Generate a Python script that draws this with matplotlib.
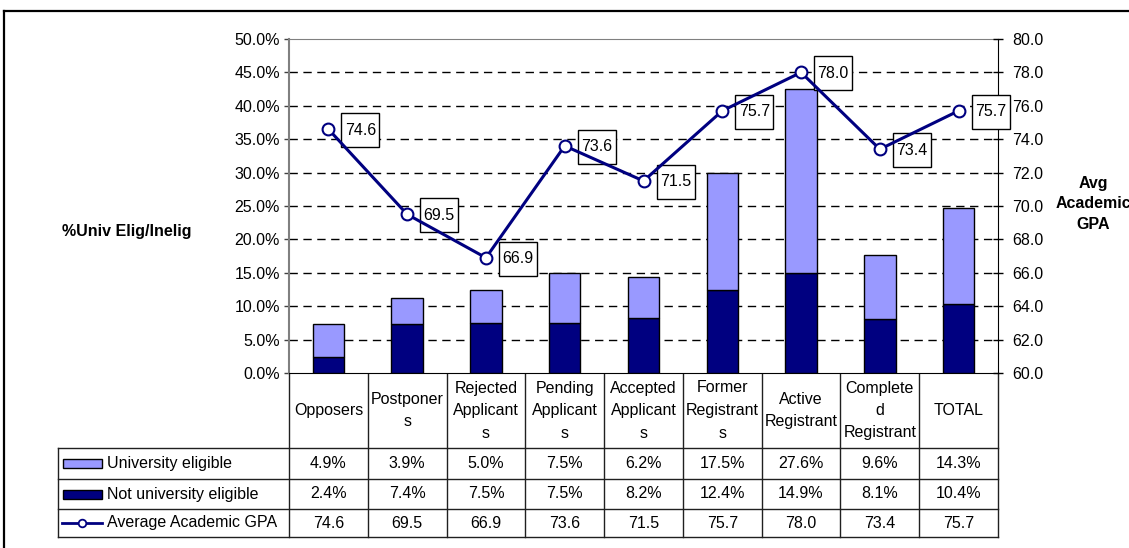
import numpy as np
import matplotlib
matplotlib.use('Agg')
import matplotlib.pyplot as plt
from matplotlib.patches import Rectangle
from matplotlib.lines import Line2D
import matplotlib.transforms as mtransforms
from matplotlib.ticker import FuncFormatter

# ---------------- data ----------------
categories = ["Opposers", "Postponer\ns", "Rejected\nApplicant\ns", "Pending\nApplicant\ns",
              "Accepted\nApplicant\ns", "Former\nRegistrant\ns", "Active\nRegistrant",
              "Complete\nd\nRegistrant", "TOTAL"]
univ_eligible = [4.9, 3.9, 5.0, 7.5, 6.2, 17.5, 27.6, 9.6, 14.3]
not_eligible = [2.4, 7.4, 7.5, 7.5, 8.2, 12.4, 14.9, 8.1, 10.4]
avg_gpa = [74.6, 69.5, 66.9, 73.6, 71.5, 75.7, 78.0, 73.4, 75.7]
series_names = ["University eligible", "Not university eligible", "Average Academic GPA"]
left_ticks = [0, 5, 10, 15, 20, 25, 30, 35, 40, 45, 50]
right_ticks = [60, 62, 64, 66, 68, 70, 72, 74, 76, 78, 80]
left_label = "%Univ Elig/Inelig"
right_label = ["Avg", "Academic", "GPA"]

# ---------------- style ----------------
plt.rcParams['font.family'] = ['Liberation Sans', 'DejaVu Sans']
NAVY = '#000080'
LAV = '#9999FF'
FS = 11.5
plt.rcParams['font.size'] = FS

W, H = 1129, 548
fig = plt.figure(figsize=(W / 100, H / 100), dpi=100)
L, R, T, B = 289, 998, 39, 373
ax = fig.add_axes([L / W, 1 - B / H, (R - L) / W, (B - T) / H])
n = len(categories)
x = np.arange(n)

ax.bar(x, not_eligible, width=0.4, color=NAVY, edgecolor='black', lw=1, zorder=3)
ax.bar(x, univ_eligible, bottom=not_eligible, width=0.4, color=LAV,
       edgecolor='black', lw=1, zorder=3)
ax.set_xlim(-0.5, n - 0.5)
ax.set_ylim(left_ticks[0], left_ticks[-1])
ax.set_yticks(left_ticks)
ax.yaxis.set_major_formatter(FuncFormatter(lambda v, p: f"{v:.1f}%"))
ax.set_xticks([])
for yv in left_ticks[1:-1]:
    ax.axhline(yv, color='black', lw=1, ls=(0, (6, 4)), zorder=1)
ax.spines['top'].set_color('#808080')
ax.spines['left'].set_color('#808080')
ax.spines['left'].set_linewidth(1.5)
ax.spines['right'].set_visible(False)
ax.spines['bottom'].set_color('black')
ax.tick_params(axis='y', direction='out', length=3.6, width=1, color='#404040',
               pad=3, labelsize=FS)

ax2 = ax.twinx()
ax2.set_ylim(right_ticks[0], right_ticks[-1])
ax2.set_yticks(right_ticks)
ax2.yaxis.set_major_formatter(FuncFormatter(lambda v, p: f"{v:.1f}"))
ax2.tick_params(axis='y', direction='inout', length=7, width=1, color='black',
                pad=7, labelsize=FS)
for s in ['top', 'left', 'bottom']:
    ax2.spines[s].set_visible(False)
ax2.spines['right'].set_color('black')

ax2.plot(x, avg_gpa, color=NAVY, lw=2.2, marker='o', ms=8.5, mfc='white', mec=NAVY,
         mew=1.5, zorder=6, clip_on=False)

# data labels in boxes
for i, v in enumerate(avg_gpa):
    tr = fig.dpi_scale_trans + mtransforms.ScaledTranslation(i, v, ax2.transData)
    ax2.add_patch(Rectangle((0.13, -0.18), 0.38, 0.34, transform=tr, facecolor='white',
                            edgecolor='black', lw=1, zorder=5, clip_on=False))
    ax2.text(0.32, -0.01, f"{v:.1f}", transform=tr, ha='center', va='center',
             fontsize=FS, zorder=7, clip_on=False)

# ---------------- table ----------------
tab = fig.add_axes([0, 0, 1, 1], zorder=-1)
tab.set_xlim(0, W)
tab.set_ylim(H, 0)
tab.axis('off')
cw = (R - L) / n
edges = [L + k * cw for k in range(n + 1)]
HDR_BOT = 448
rows_y = [448, 479, 509, 537]
LEG_L = 58
lc = '#202020'
for e in edges:
    tab.plot([e, e], [B, rows_y[-1]], color=lc, lw=1)
tab.plot([LEG_L, LEG_L], [rows_y[0], rows_y[-1]], color=lc, lw=1)
for yy in rows_y:
    tab.plot([LEG_L, R], [yy, yy], color=lc, lw=1)

pitch = 22.5
hc = (B + HDR_BOT) / 2
for k, cat in enumerate(categories):
    lines = cat.split("\n")
    cx = (edges[k] + edges[k + 1]) / 2
    for j, ln in enumerate(lines):
        tab.text(cx, hc + (j - (len(lines) - 1) / 2) * pitch, ln, ha='center',
                 va='center', fontsize=FS)

row_vals = [[f"{v:.1f}%" for v in univ_eligible],
            [f"{v:.1f}%" for v in not_eligible],
            [f"{v:.1f}" for v in avg_gpa]]
for r in range(3):
    cy = (rows_y[r] + rows_y[r + 1]) / 2
    for k in range(n):
        cx = (edges[k] + edges[k + 1]) / 2
        tab.text(cx, cy, row_vals[r][k], ha='center', va='center', fontsize=FS)
    tab.text(107, cy, series_names[r], ha='left', va='center', fontsize=FS)

# legend keys
cy0 = (rows_y[0] + rows_y[1]) / 2
cy1 = (rows_y[1] + rows_y[2]) / 2
cy2 = (rows_y[2] + rows_y[3]) / 2
tab.add_patch(Rectangle((63, cy0 - 4.5), 39, 9, facecolor=LAV, edgecolor='black', lw=1))
tab.add_patch(Rectangle((63, cy1 - 4.5), 39, 9, facecolor=NAVY, edgecolor='black', lw=1))
tab.plot([62, 102], [cy2, cy2], color=NAVY, lw=2)
tab.plot([82], [cy2], marker='o', ms=5.5, mfc='white', mec=NAVY, mew=1.3)

# axis titles
fig.text(127 / W, 1 - 232 / H, left_label, ha='center', va='center', fontsize=FS,
         fontweight='bold')
for j, ln in enumerate(right_label):
    fig.text(1093 / W, 1 - (204 + (j - 1) * 20.5) / H, ln, ha='center', va='center',
             fontsize=FS, fontweight='bold')

# outer frame (partially visible)
fig.add_artist(Line2D([4 / W, 4 / W], [0, 1 - 11 / H], transform=fig.transFigure,
                      color='black', lw=1.6))
fig.add_artist(Line2D([4 / W, 1], [1 - 11 / H, 1 - 11 / H], transform=fig.transFigure,
                      color='black', lw=1.6))

fig.savefig('out.png', dpi=100)
